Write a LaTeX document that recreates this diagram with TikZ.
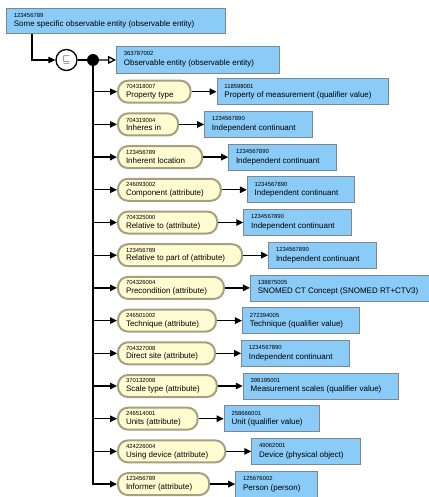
\documentclass[tikz,border=0pt]{standalone}
\usepackage{fontspec,amssymb}
\setmainfont{Liberation Sans}
\usetikzlibrary{positioning,arrows.meta}
\definecolor{conceptblue}{RGB}{138,203,247}
\definecolor{conceptline}{RGB}{125,135,145}
\definecolor{attrfill}{RGB}{255,252,210}
\definecolor{attrline}{RGB}{165,160,128}
\tikzset{>={Triangle[length=7pt,width=6.5pt]}}
\tikzset{
  concept/.style = {draw=conceptline, fill=conceptblue, line width=0.7pt, align=left,
    inner xsep=7.5pt, inner ysep=3pt, minimum height=26pt, font=\fontsize{8}{9.5}\selectfont},
  attr/.style = {draw=attrline, fill=attrfill, line width=2pt, rounded corners=10pt, align=left,
    inner xsep=8pt, inner ysep=2pt, minimum height=22pt, font=\fontsize{8}{8.8}\selectfont},
  conn/.style = {line width=1.3pt, black}
}
\newcommand{\idname}[2]{{\fontsize{5.9}{6}\selectfont #1}\\#2\kern9pt}

\begin{document}
\begin{tikzpicture}[x=1pt, y=-1pt]
\useasboundingbox (0,0) rectangle (428,497);
\node[concept, minimum height=25pt, anchor=north west] (top) at (6,8) {\idname{123456789}{Some specific observable entity (observable entity)\kern14pt}};
\node[circle, draw, line width=1.3pt, fill=white, minimum size=21pt, inner sep=0pt] (sub) at (66.5,60) {$\sqsubseteq$};
\node[circle, fill=black, minimum size=12pt, inner sep=0pt] (and) at (93,60) {};
\node[concept, minimum height=27pt, anchor=west] (parent) at (116,59.5) {\idname{363787002}{Observable entity (observable entity)\kern9pt}};
\draw[conn, ->] ([xshift=26pt]top.south west) |- (sub);
\draw[conn] (sub) -- (and);
\draw[conn, -{Triangle[open, length=8pt, width=8pt]}] (and) -- (parent);
% attributes and their values
\foreach \aid/\aname/\vid/\vname [count=\i from 0] in {
  704318007/Property type/118598001/Property of measurement (qualifier value),
  704319004/Inheres in/1234567890/Independent continuant,
  123456789/Inherent location/1234567890/Independent continuant,
  246093002/Component (attribute)/1234567890/Independent continuant,
  704325000/Relative to (attribute)/1234567890/Independent continuant,
  123456789/Relative to part of (attribute)/1234567890/Independent continuant,
  704326004/Precondition (attribute)/138875005/SNOMED CT Concept (SNOMED RT+CTV3),
  246501002/Technique (attribute)/272394005/Technique (qualifier value),
  704327008/Direct site (attribute)/1234567890/Independent continuant,
  370132008/Scale type (attribute)/398195001/Measurement scales (qualifier value),
  246514001/Units (attribute)/258666001/Unit (qualifier value),
  424226004/Using device (attribute)/49062001/Device (physical object),
  123456789/Informer (attribute)/125676002/Person (person)}
{
  \node[attr, anchor=west] (att\i) at (117,91.7+32.7*\i) {\idname{\aid}{\aname}};
  \node[concept, right=25pt of att\i] (val\i) {\idname{\vid}{\vname}};
  \draw[conn, ->] (and) |- (att\i);
  \draw[conn, ->] (att\i) -- (val\i);
}
\end{tikzpicture}
\end{document}
